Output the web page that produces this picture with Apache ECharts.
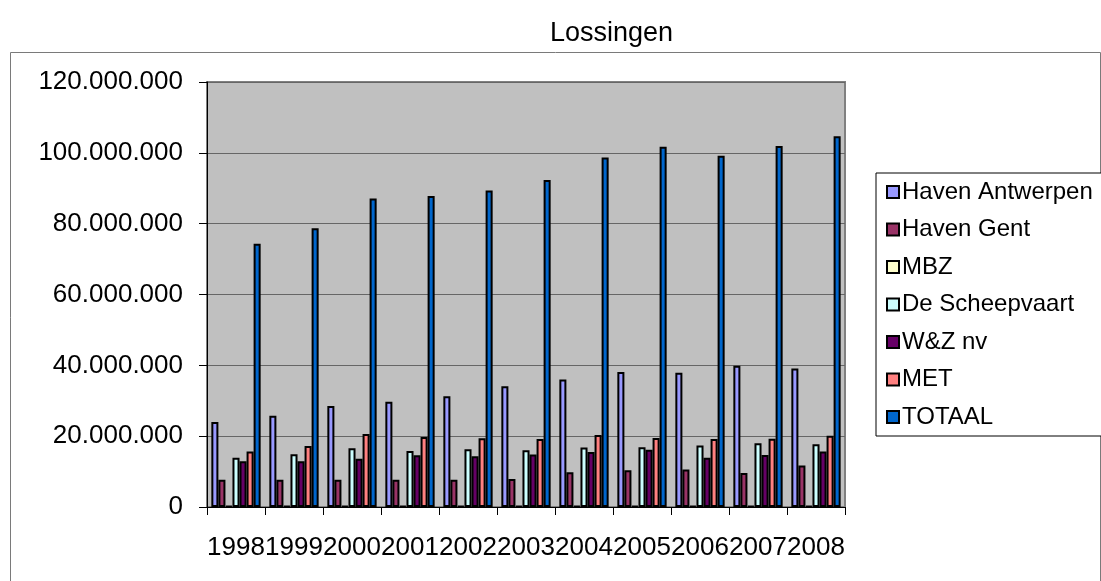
<!DOCTYPE html>
<html lang="nl">
<head>
  <meta charset="UTF-8">
  <title>Lossingen</title>
  <script src="https://cdn.jsdelivr.net/npm/echarts@6/dist/echarts.min.js"></script>
  <style>
    html, body { margin: 0; padding: 0; background: #ffffff; }
    #chart { width: 1101px; height: 581px; }
  </style>
</head>
<body>
<div id="chart"></div>
<script>
  // jaren en waarden (ton)
  var years = ['1998', '1999', '2000', '2001', '2002', '2003', '2004', '2005', '2006', '2007', '2008'];
  var havenAntwerpen = [24000000, 25800000, 28500000, 29700000, 31300000, 34100000, 36000000, 38100000, 37900000, 39900000, 39100000];
  var havenGent = [7700000, 7700000, 7700000, 7700000, 7700000, 7900000, 9800000, 10400000, 10600000, 9600000, 11700000];
  var mbz = [300000, 300000, 300000, 300000, 300000, 300000, 300000, 300000, 300000, 300000, 300000];
  var deScheepvaart = [13900000, 14900000, 16600000, 15800000, 16300000, 16000000, 16800000, 16900000, 17400000, 18000000, 17700000];
  var wzNv = [12900000, 12900000, 13600000, 14600000, 14300000, 14800000, 15500000, 16200000, 13900000, 14700000, 15700000];
  var met = [15700000, 17200000, 20600000, 19800000, 19400000, 19200000, 20300000, 19500000, 19200000, 19300000, 20100000];
  var totaal = [74300000, 78700000, 87100000, 87800000, 89400000, 92300000, 98700000, 101700000, 99200000, 101900000, 104700000];
  var yTicks = { min: 0, max: 120000000, interval: 20000000 };

  var seriesDefs = [
    { name: 'Haven Antwerpen', data: havenAntwerpen, color: '#9999FF' },
    { name: 'Haven Gent', data: havenGent, color: '#993366' },
    { name: 'MBZ', data: mbz, color: '#FFFFCC' },
    { name: 'De Scheepvaart', data: deScheepvaart, color: '#CCFFFF' },
    { name: 'W&Z nv', data: wzNv, color: '#660066' },
    { name: 'MET', data: met, color: '#FF8080' },
    { name: 'TOTAAL', data: totaal, color: '#0066CC' }
  ];

  var fontFam = '"Liberation Sans", Arial, sans-serif';

  function fmt(v) {
    return String(v).replace(/\B(?=(\d{3})+(?!\d))/g, '.');
  }

  var chart = echarts.init(document.getElementById('chart'), null, { renderer: 'canvas' });

  var option = {
    backgroundColor: '#ffffff',
    animation: false,
    textStyle: { fontFamily: fontFam },
    title: {
      text: 'Lossingen',
      left: 545,
      top: 15,
      textStyle: { fontFamily: fontFam, fontSize: 27, fontWeight: 'normal', color: '#000' }
    },
    graphic: [{
      type: 'rect',
      shape: { x: 10.5, y: 52.5, width: 1090, height: 560 },
      style: { fill: 'none', stroke: '#7a7a7a', lineWidth: 1 },
      silent: true
    }],
    legend: {
      orient: 'vertical',
      left: 876,
      top: 173,
      padding: [7, 30, 7, 10],
      itemGap: 13.5,
      itemWidth: 12,
      itemHeight: 12,
      icon: 'rect',
      borderColor: '#000',
      borderWidth: 1,
      backgroundColor: '#ffffff',
      textStyle: { fontFamily: fontFam, fontSize: 24, color: '#000', lineHeight: 24, padding: [0, 0, 0, -2] },
      data: seriesDefs.map(function (s) { return s.name; })
    },
    grid: {
      left: 207,
      right: 256,
      top: 82,
      bottom: 74,
      show: true,
      backgroundColor: '#C0C0C0',
      borderColor: '#808080',
      borderWidth: 2
    },
    xAxis: {
      type: 'category',
      data: years,
      axisLine: { show: true, lineStyle: { color: '#000', width: 1 } },
      axisTick: { show: true, length: 8, alignWithLabel: false, lineStyle: { color: '#000' } },
      axisLabel: { margin: 28, fontSize: 26, color: '#000', fontFamily: fontFam, interval: 0 },
      splitLine: { show: false }
    },
    yAxis: {
      type: 'value',
      min: yTicks.min,
      max: yTicks.max,
      interval: yTicks.interval,
      axisLine: { show: true, lineStyle: { color: '#000', width: 1 } },
      axisTick: { show: true, length: 8, lineStyle: { color: '#000' } },
      axisLabel: { margin: 24, fontSize: 26, color: '#000', fontFamily: fontFam, formatter: fmt },
      splitLine: { show: true, lineStyle: { color: '#666', width: 1 } }
    },
    series: seriesDefs.map(function (s) {
      return {
        name: s.name,
        type: 'bar',
        data: s.data,
        barGap: '0%',
        barCategoryGap: '15%',
        itemStyle: { color: s.color, borderColor: '#000', borderWidth: 2 },
        emphasis: { disabled: true }
      };
    })
  };

  chart.setOption(option);
</script>
</body>
</html>
